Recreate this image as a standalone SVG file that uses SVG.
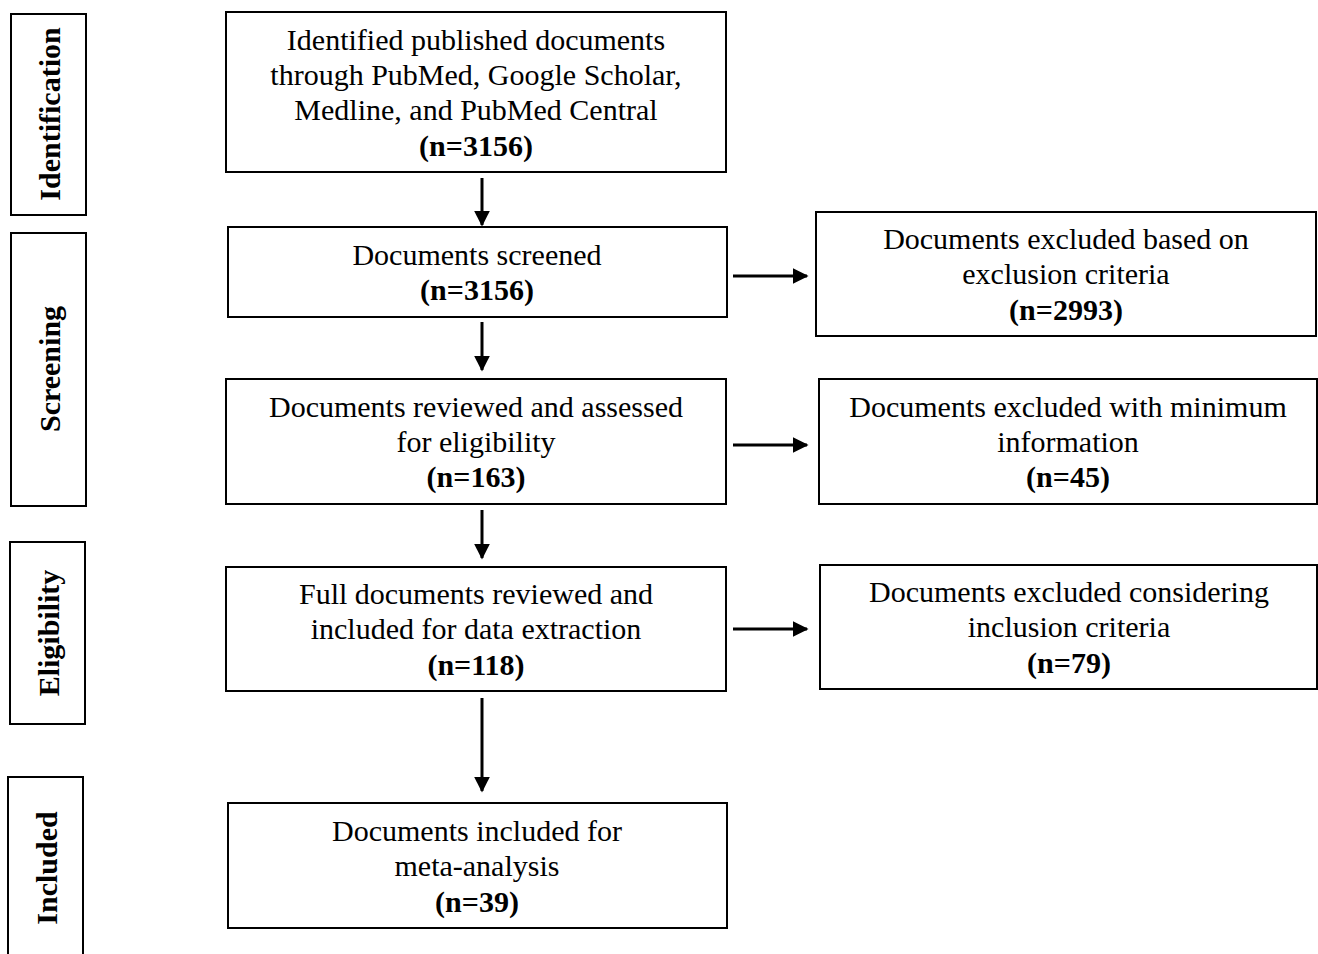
<svg xmlns="http://www.w3.org/2000/svg" width="1318" height="954" viewBox="0 0 1318 954">
<style>
rect{fill:#fff;stroke:#000;stroke-width:2}
text{font-family:"Liberation Serif","Times New Roman",serif;font-size:30px;fill:#000;text-anchor:middle}
.b{font-weight:bold}
.stage{font-weight:bold;font-size:30px}
.c line{stroke:#000;stroke-width:3}
</style>
<defs>
<marker id="ah" viewBox="0 0 10 10" refX="9" refY="5" markerWidth="5.3" markerHeight="5.3" orient="auto" markerUnits="strokeWidth">
<path d="M0,0 L10,5 L0,10 z" fill="#000"/>
</marker>
</defs>
<rect x="0" y="0" width="1318" height="954" style="stroke:none"/>
<g id="stage-identification"><rect x="11" y="14" width="75" height="201"/><text class="stage" transform="translate(60,114) rotate(-90)">Identification</text></g>
<g id="stage-screening"><rect x="11" y="233" width="75" height="273"/><text class="stage" transform="translate(60,369) rotate(-90)">Screening</text></g>
<g id="stage-eligibility"><rect x="10" y="542" width="75" height="182"/><text class="stage" transform="translate(59,633) rotate(-90)">Eligibility</text></g>
<g id="stage-included"><rect x="8" y="777" width="75" height="190"/><text class="stage" transform="translate(57,868) rotate(-90)">Included</text></g>

<g id="n1"><rect x="226" y="12" width="500" height="160"/>
<text x="476" y="50">Identified published documents</text>
<text x="476" y="85">through PubMed, Google Scholar,</text>
<text x="476" y="120">Medline, and PubMed Central</text>
<text x="476" y="156" class="b">(n=3156)</text></g>
<g id="n2"><rect x="228" y="227" width="499" height="90"/>
<text x="477" y="265">Documents screened</text>
<text x="477" y="300" class="b">(n=3156)</text></g>
<g id="n3"><rect x="226" y="379" width="500" height="125"/>
<text x="476" y="417">Documents reviewed and assessed</text>
<text x="476" y="452">for eligibility</text>
<text x="476" y="487" class="b">(n=163)</text></g>
<g id="n4"><rect x="226" y="567" width="500" height="124"/>
<text x="476" y="604">Full documents reviewed and</text>
<text x="476" y="639">included for data extraction</text>
<text x="476" y="675" class="b">(n=118)</text></g>
<g id="n5"><rect x="228" y="803" width="499" height="125"/>
<text x="477" y="841">Documents included for</text>
<text x="477" y="876">meta-analysis</text>
<text x="477" y="912" class="b">(n=39)</text></g>
<g id="r1"><rect x="816" y="212" width="500" height="124"/>
<text x="1066" y="249">Documents excluded based on</text>
<text x="1066" y="284">exclusion criteria</text>
<text x="1066" y="320" class="b">(n=2993)</text></g>
<g id="r2"><rect x="819" y="379" width="498" height="125"/>
<text x="1068" y="417">Documents excluded with minimum</text>
<text x="1068" y="452">information</text>
<text x="1068" y="487" class="b">(n=45)</text></g>
<g id="r3"><rect x="820" y="565" width="497" height="124"/>
<text x="1069" y="602">Documents excluded considering</text>
<text x="1069" y="637">inclusion criteria</text>
<text x="1069" y="673" class="b">(n=79)</text></g>

<g class="c" id="connectors">
<line x1="482" y1="178" x2="482" y2="225" marker-end="url(#ah)"/>
<line x1="482" y1="322" x2="482" y2="370" marker-end="url(#ah)"/>
<line x1="482" y1="510" x2="482" y2="558" marker-end="url(#ah)"/>
<line x1="482" y1="698" x2="482" y2="791" marker-end="url(#ah)"/>
<line x1="733" y1="276" x2="807" y2="276" marker-end="url(#ah)"/>
<line x1="733" y1="445" x2="807" y2="445" marker-end="url(#ah)"/>
<line x1="733" y1="629" x2="807" y2="629" marker-end="url(#ah)"/>
</g>
</svg>
